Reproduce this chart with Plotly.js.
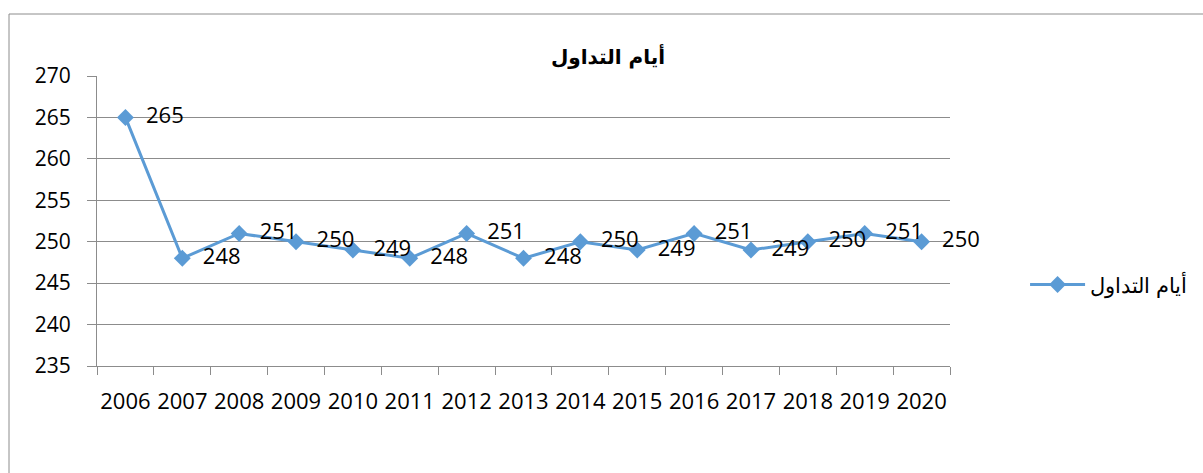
<!DOCTYPE html>
<html><head><meta charset="utf-8">
<script src="https://cdn.plot.ly/plotly-3.0.1.min.js"></script>
<style>html,body{margin:0;padding:0;background:#fff;}#chart{width:1203px;height:473px;}</style>
</head><body><div id="chart"></div>
<script>
const years = ['2006','2007','2008','2009','2010','2011','2012','2013','2014','2015','2016','2017','2018','2019','2020'];
const tradingDays = [265,248,251,250,249,248,251,248,250,249,251,249,250,251,250];
const seriesName = 'أيام التداول';
const chartTitle = 'أيام التداول';
const yTicks = [235,240,245,250,255,260,265,270];

const fontFam = '"Open Sans", "Liberation Sans", sans-serif';
const blue = '#5B9BD5';
const grid = '#8c8c8c';

const trace = {
  type: 'scatter', mode: 'lines+markers+text',
  x: years, y: tradingDays, name: seriesName,
  text: tradingDays.map(v => '  ' + v),
  textposition: 'middle right',
  textfont: {family: fontFam, size: 22, color: '#000'},
  line: {color: blue, width: 3},
  marker: {symbol: 'diamond', size: 13, color: blue},
  cliponaxis: false
};

const layout = {
  width: 1203, height: 473,
  margin: {l: 97, r: 253, t: 76, b: 107, autoexpand: false},
  paper_bgcolor: '#fff', plot_bgcolor: '#fff',
  showlegend: true,
  title: {text: '<b>' + chartTitle + '</b>', x: 0.5054, xanchor: 'center', y: 0.88, yanchor: 'middle',
          font: {family: '"DejaVu Sans", serif', size: 20, color: '#000'}},
  legend: {x: 1.088, xanchor: 'left', y: 0.28, yanchor: 'middle', itemwidth: 55,
           font: {family: fontFam, size: 21, color: '#000'}, bgcolor: 'rgba(0,0,0,0)'},
  xaxis: {type: 'category', showgrid: false, showline: true, linecolor: grid, linewidth: 1,
          ticks: 'outside', tickson: 'boundaries', ticklen: 8, tickcolor: grid, tickangle: 0,
          ticklabelstandoff: 16, automargin: false,
          tickfont: {family: fontFam, size: 22, color: '#000'}, range: [-0.5, 14.5]},
  yaxis: {range: [235, 270], tickvals: yTicks, showgrid: true, gridcolor: grid, gridwidth: 1,
          showline: true, linecolor: grid, linewidth: 1, zeroline: false, automargin: false,
          ticks: 'outside', ticklen: 9, tickcolor: grid, ticklabelstandoff: 12,
          tickfont: {family: fontFam, size: 21, color: '#000'}},
  shapes: [{type: 'rect', xref: 'paper', yref: 'paper', x0: (9-97)/853, x1: 1.6, y0: -0.6, y1: (366-14)/290,
            line: {color: '#8c8c8c', width: 1}, fillcolor: 'rgba(0,0,0,0)', layer: 'below'}]
};

Plotly.newPlot('chart', [trace], layout, {displayModeBar: false, staticPlot: true});
</script></body></html>
